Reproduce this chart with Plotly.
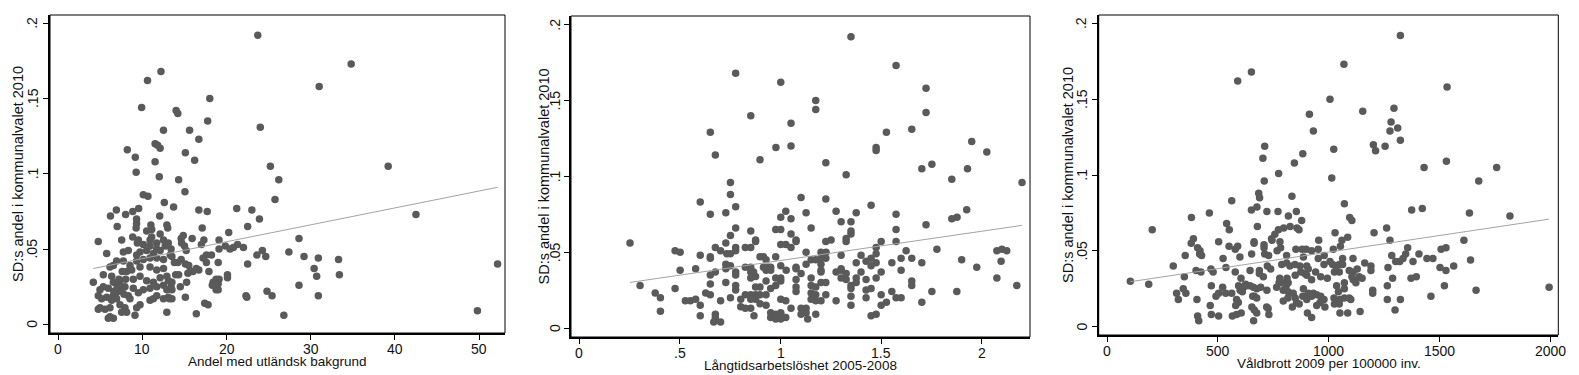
import plotly.graph_objects as go

# ---------------- data ----------------
# Panel 1: Andel med utländsk bakgrund vs SD share
pts1 = [
    (23.7, .192), (34.8, .173), (12.2, .168), (10.6, .162), (31.0, .158), (18.0, .150), (9.9, .144),
    (14.0, .142), (14.2, .140), (17.75, .135), (24.0, .131), (12.5, .129), (15.6, .129), (16.7, .123),
    (11.5, .120), (11.8, .119), (12.1, .117), (8.2, .116), (15.1, .114), (9.15, .111), (16.2, .109),
    (11.5, .108), (39.2, .105), (25.2, .105), (9.25, .101), (12.0, .098), (14.3, .096), (26.2, .096),
    (15.05, .088), (10.1, .086), (10.65, .085), (25.75, .083), (12.6, .081), (13.7, .078), (21.2, .077),
    (6.9, .076), (16.7, .076), (23.0, .076), (17.7, .075), (9.55, .077), (8.85, .075), (8.0, .073),
    (42.5, .073), (6.2, .072), (12.05, .072), (23.9, .070), (9.3, .070), (9.3, .067), (12.9, .066),
    (11.0, .066), (11.1, .063), (13.0, .064), (17.1, .064), (22.5, .065), (7.0, .065), (9.25, .064),
    (10.5, .062), (20.25, .061),
    (14.85, .059), (14.6, .057), (15.9, .057), (28.6, .057), (17.3, .056), (19.1, .056), (17.0, .053),
    (14.65, .054), (19.1, .050), (19.85, .052), (20.8, .051), (22.0, .051), (24.25, .049), (13.4, .050),
    (15.2, .049), (27.4, .048), (17.6, .046), (18.2, .046), (23.6, .046), (24.65, .045), (29.2, .045),
    (30.9, .044), (33.3, .043), (17.2, .044), (14.6, .043), (13.8, .041), (17.6, .041), (19.0, .041),
    (52.2, .040), (22.5, .040), (15.1, .040), (15.5, .039), (30.4, .037), (15.7, .035), (16.4, .037),
    (16.7, .036), (17.9, .035), (33.4, .033), (30.7, .032), (20.1, .033), (20.1, .031), (13.95, .033),
    (18.75, .030), (18.4, .028), (18.3, .026), (28.6, .026), (14.5, .025), (18.75, .023), (19.0, .023),
    (24.8, .022), (22.3, .019), (22.4, .018), (25.4, .019), (30.9, .019), (15.1, .018), (13.2, .017),
    (17.4, .014), (17.8, .013), (12.9, .008), (16.4, .007), (26.8, .006), (49.8, .009),
    (15.0, .052), (20.4, .050), (21.3, .053), (13.3, .046), (13.5, .045), (14.2, .041), (16.0, .035),
    (14.3, .033), (15.4, .034), (13.1, .029), (13.5, .028), (13.4, .025), (13.5, .023), (15.25, .028),
    (19.1, .030), (19.0, .027), (13.5, .017),
    (8.84, .058), (9.51, .056), (9.39, .054), (11.1, .058), (10.9, .056), (12.1, .060), (11.7, .054),
    (12.5, .056), (4.75, .055), (7.53, .056), (8.32, .049), (7.73, .048), (5.75, .047),
    (10.1, .053), (10.9, .052), (11.7, .050), (9.71, .048), (9.31, .046), (10.5, .049), (11.3, .047),
    (12.1, .049), (12.7, .052), (13.07, .054),
    (6.93, .042), (7.73, .042), (8.52, .039), (9.31, .042), (10.1, .043), (10.9, .044), (11.7, .044),
    (12.5, .043), (6.54, .039), (6.14, .038), (5.35, .033), (6.34, .032), (10.9, .038), (11.7, .036),
    (12.5, .037), (9.71, .038), (8.72, .036), (8.12, .035),
    (9.71, .032), (10.5, .029), (11.3, .028), (12.1, .031), (12.9, .032), (7.33, .029), (6.54, .028),
    (4.16, .028), (8.91, .030), (10.9, .024), (11.7, .025), (12.5, .026), (12.9, .023), (5.35, .025),
    (5.94, .024), (7.33, .026), (7.92, .025),
    (4.95, .023), (4.75, .019), (5.15, .017), (5.75, .018), (6.54, .019), (7.13, .022), (7.53, .023),
    (8.32, .019), (8.52, .017), (6.93, .017), (6.34, .016), (8.91, .024), (9.51, .021), (10.1, .023),
    (10.9, .016), (11.3, .017), (11.7, .019), (12.5, .017), (13.07, .018),
    (4.95, .011), (5.55, .010), (6.14, .011), (7.33, .013), (7.92, .011), (7.53, .008), (8.12, .008),
    (9.71, .013), (9.31, .011), (9.11, .006), (6.14, .005), (6.54, .004), (5.94, .004), (4.75, .010),
    (6.8, .020), (7.0, .025), (7.2, .030), (6.6, .022), (7.6, .035), (7.8, .020), (8.0, .030),
]

# Panel 2: Långtidsarbetslöshet 2005-2008 vs SD share
pts2 = [
    (1.350, .192), (1.574, .173), (.777, .168), (1.001, .162), (1.723, .158), (1.175, .150), (1.175, .144),
    (1.723, .142), (.852, .140), (1.052, .135), (1.652, .131), (.651, .129), (1.526, .129), (1.950, .123),
    (.977, .119), (1.475, .119), (1.475, .117), (1.052, .120), (2.025, .116), (.676, .114), (.898, .111),
    (1.225, .109), (1.752, .108), (1.702, .105), (1.929, .105), (1.326, .101), (1.851, .098), (.751, .096),
    (2.2, .096), (.751, .088), (1.102, .086), (1.225, .085), (.601, .083), (1.45, .081), (.777, .080),
    (1.276, .077), (1.026, .077), (1.925, .078), (.728, .076), (1.127, .076), (1.376, .076), (1.574, .075),
    (.651, .075), (1.877, .073), (1.851, .072), (1.001, .073), (1.052, .072), (1.301, .070), (1.35, .070),
    (1.723, .068), (.777, .066), (1.152, .066), (1.574, .065), (.976, .065), (1.001, .065), (.852, .064),
    (1.35, .064), (1.35, .062), (1.052, .062), (.751, .061), (1.326, .059), (1.326, .057), (1.5, .057),
    (1.574, .057), (.876, .058), (.876, .057), (1.077, .058), (1.077, .057), (1.225, .057), (1.251, .058),
    (.252, .056), (.728, .056), (1.026, .055), (1.001, .055), (.676, .053), (.777, .053), (.777, .051),
    (.825, .053), (.852, .053), (1.052, .053), (1.475, .053), (.476, .051), (.501, .050), (.702, .051),
    (1.624, .051), (1.777, .052), (2.075, .051), (2.1, .052), (2.124, .051), (1.201, .050), (1.226, .050),
    (1.127, .050), (.733, .049), (.751, .049), (1.475, .049), (1.301, .048), (1.4, .048), (.601, .048),
    (.651, .047), (.651, .046), (.898, .047), (.915, .047), (.976, .047), (1.201, .046), (1.225, .046),
    (1.45, .046), (1.599, .046), (1.652, .046), (1.152, .045), (1.175, .045), (1.9, .045), (.928, .045),
    (2.096, .044), (1.425, .044), (1.475, .043), (1.376, .043), (1.553, .043), (1.702, .043), (1.201, .042),
    (1.127, .042), (.728, .042), (.751, .041), (1.001, .041), (1.45, .041), (.825, .040), (.852, .040),
    (.915, .040), (.94, .040), (.951, .040), (1.077, .040), (1.077, .039), (1.975, .040), (.728, .039),
    (.578, .039), (.501, .038), (1.028, .038), (1.201, .038), (1.201, .037), (1.301, .039), (1.301, .038),
    (1.599, .038), (.777, .037), (.777, .035), (.852, .037), (.866, .037), (.928, .038), (.951, .038),
    (1.102, .036), (1.276, .037), (1.326, .036), (1.4, .037), (1.5, .037), (.676, .037), (.651, .035),
    (.852, .033), (.876, .034), (.976, .033), (1.001, .033), (1.077, .032), (1.152, .033), (1.425, .032),
    (1.376, .033), (1.376, .030), (1.475, .033), (2.075, .033), (1.301, .033), (1.326, .032), (.928, .031),
    (.728, .030), (1.652, .031), (1.652, .028), (.651, .029), (1.001, .031), (.976, .028), (1.201, .030),
    (1.225, .030), (1.35, .028), (1.35, .026), (.302, .028), (2.174, .028), (1.152, .028), (1.175, .027),
    (.777, .028), (.777, .025), (.876, .027), (.898, .027), (1.077, .027), (.476, .026), (1.45, .026),
    (.951, .026), (1.425, .025), (1.553, .024), (1.752, .024), (1.876, .024), (1.077, .024), (.628, .023),
    (.651, .022), (.377, .023), (.852, .022), (.876, .022), (.898, .022), (.928, .022), (1.152, .023),
    (1.175, .022), (1.225, .022), (1.5, .022), (.825, .022), (.403, .020), (.751, .020), (1.35, .021),
    (1.425, .020), (1.574, .020), (1.599, .020), (.802, .019), (1.001, .019), (1.026, .018), (1.152, .019),
    (1.175, .018), (1.201, .018), (1.276, .018), (.527, .018), (.552, .018), (.578, .019), (.702, .018),
    (.876, .019), (.852, .019), (1.526, .017), (1.702, .017), (.601, .015), (1.35, .015), (1.5, .015),
    (.898, .016), (.928, .015), (.802, .014), (.825, .013), (.852, .013), (1.102, .013), (1.127, .013),
    (1.052, .013), (.403, .011), (.951, .010), (.976, .009), (1.001, .010), (1.001, .009), (1.102, .009),
    (1.127, .010), (1.175, .009), (1.45, .008), (1.475, .009), (.601, .008), (.868, .008), (.676, .009),
    (.676, .007), (.951, .007), (.976, .006), (1.001, .006), (1.026, .007), (1.135, .006), (.668, .004),
    (.702, .004),
]

# Panel 3: Våldbrott 2009 per 100000 inv. vs SD share
pts3 = [
    (1324, .192), (1069, .173), (651, .168), (589, .162), (1535, .158), (1006, .150), (1295, .144),
    (1154, .142), (913, .140), (1282, .135), (1312, .131), (931, .129), (1277, .129), (1324, .123),
    (711, .119), (1202, .120), (1255, .119), (1023, .117), (1212, .116), (703, .111), (883, .114),
    (1532, .109), (845, .108), (1431, .105), (1759, .105), (774, .101), (1014, .098), (709, .096),
    (1678, .096), (684, .088), (688, .085), (562, .083), (834, .086), (1071, .081), (676, .079),
    (651, .077), (721, .076), (771, .076), (854, .076), (1375, .077), (1423, .078), (461, .075),
    (1636, .075), (878, .070), (1819, .073), (380, .072), (818, .073), (1095, .072), (1105, .070),
    (203, .064), (539, .068), (551, .064), (678, .066), (797, .065), (826, .066), (773, .064),
    (857, .065), (866, .064), (1262, .065), (757, .061), (742, .058), (1029, .062), (1205, .062),
    (1086, .059), (389, .058), (379, .055), (663, .056), (663, .055), (744, .057), (780, .056),
    (503, .056), (955, .057), (1060, .057), (1277, .057), (1611, .057), (550, .053), (589, .053),
    (708, .054), (708, .052), (783, .052), (852, .051), (880, .051), (898, .051), (953, .051),
    (1021, .051), (1053, .053), (1357, .052), (1508, .051), (1530, .052), (408, .052), (419, .050),
    (578, .051), (417, .048), (426, .047), (711, .048), (729, .047), (767, .050), (923, .050),
    (886, .046), (980, .047), (352, .047), (652, .048), (599, .046), (810, .047), (1348, .048),
    (1336, .045), (1321, .043), (1303, .043), (1408, .048), (1444, .045), (1471, .045), (523, .045),
    (1063, .045), (1110, .045), (1285, .047), (1381, .043), (1641, .044), (953, .045), (298, .040),
    (536, .039), (401, .037), (423, .036), (468, .038), (478, .036), (578, .036), (723, .040),
    (738, .038), (788, .041), (810, .042), (825, .040), (848, .041), (870, .040), (901, .040),
    (908, .038), (979, .041), (1006, .043), (1018, .041), (1033, .040), (1048, .041), (1063, .041),
    (1093, .037), (1111, .036), (1129, .038), (1026, .036), (1048, .036), (1163, .042), (1191, .040),
    (1191, .037), (1268, .039), (1503, .039), (1565, .040), (1530, .037), (1372, .032), (1396, .033),
    (1289, .032), (348, .033), (604, .032), (687, .037), (687, .035), (705, .033), (645, .037),
    (874, .036), (892, .035), (941, .036), (964, .033), (994, .032), (901, .034), (923, .031),
    (779, .032), (849, .034), (1105, .033), (1111, .031), (1138, .033), (1151, .032), (1123, .029),
    (1036, .027), (1044, .023), (1071, .029), (1071, .025), (1265, .027), (1523, .027), (1996, .026),
    (343, .025), (313, .022), (355, .022), (187, .028), (104, .030), (470, .027), (491, .020),
    (503, .022), (521, .026), (535, .022), (562, .022), (593, .027), (614, .026), (630, .027),
    (645, .027), (660, .026), (675, .025), (625, .028), (600, .024), (610, .023), (693, .026),
    (721, .024), (765, .026), (789, .029), (812, .032), (808, .027), (817, .029), (795, .024),
    (817, .023), (840, .022), (886, .025), (908, .022), (931, .022), (883, .020), (901, .018),
    (923, .020), (946, .021), (964, .020), (979, .018), (961, .016), (946, .014), (849, .019),
    (855, .016), (867, .015), (816, .019), (795, .017), (776, .029), (983, .013), (1024, .019),
    (1033, .016), (1051, .018), (1093, .019), (1100, .018), (1071, .019), (1026, .015), (1048, .015),
    (1199, .024), (1199, .022), (1265, .018), (1324, .018), (1462, .020), (1666, .024), (657, .020),
    (664, .020), (675, .019), (584, .018), (465, .014), (321, .018), (405, .018), (580, .014),
    (592, .016), (653, .013), (664, .011), (675, .009), (836, .013), (720, .013), (727, .012),
    (730, .008), (470, .008), (503, .007), (565, .007), (584, .008), (605, .009), (408, .007),
    (413, .004), (661, .004), (904, .009), (923, .006), (1051, .009), (1086, .009), (1142, .010),
    (1300, .011),
]

# fitted regression lines (intercept, slope) as drawn in the reference
fit1 = (0.0324, 0.001123)
fit2 = (0.0252, 0.0193)
fit3 = (0.0274, 0.0000218)

x_titles = ["Andel med utländsk bakgrund", "Långtidsarbetslöshet 2005-2008", "Våldbrott 2009 per 100000 inv."]
y_title = "SD:s andel i kommunalvalet 2010"
x_ticks = [[0, 10, 20, 30, 40, 50], [0, 0.5, 1, 1.5, 2], [0, 500, 1000, 1500, 2000]]
x_ticklabels = [["0", "10", "20", "30", "40", "50"], ["0", ".5", "1", "1.5", "2"],
                ["0", "500", "1000", "1500", "2000"]]
y_ticks = [0, 0.05, 0.1, 0.15, 0.2]
y_ticklabels = ["0", ".05", ".1", ".15", ".2"]

# ---------------- layout geometry ----------------
W, H = 1579, 375
x_ranges = [[-0.986, 53.08], [-0.0413, 2.2396], [-38.9, 2037.5]]
y_ranges = [[-0.00578, 0.2055], [-0.00593, 0.2057], [-0.00547, 0.2055]]
left_px = [50, 571, 1098.7]
right_px = [505, 1030, 1558.3]
top_px = [15, 16, 15]
bottom_px = [333, 337, 335]
ytick_lab_px = [32.5, 555, 1081.7]      # centre of rotated y tick labels
ytitle_px = [18, 544, 1068]             # centre of rotated y titles

MARK = "#5a5a5a"
LINE = "#a3a3a3"
TXT = "#111111"
FONT = "Liberation Sans, Arial, sans-serif"

fig = go.Figure()
layout = dict(
    width=W, height=H, margin=dict(l=0, r=0, t=0, b=0),
    paper_bgcolor="white", plot_bgcolor="white", showlegend=False,
    font=dict(family=FONT, size=13, color=TXT),
)
shapes = []
annotations = []

for i, (pts, fit) in enumerate([(pts1, fit1), (pts2, fit2), (pts3, fit3)]):
    n = "" if i == 0 else str(i + 1)
    xs = [p[0] for p in pts]
    ys = [p[1] for p in pts]
    fig.add_trace(go.Scatter(
        x=xs, y=ys, mode="markers", xaxis="x" + n, yaxis="y" + n,
        marker=dict(color=MARK, size=7.5, line=dict(width=0)),
        hoverinfo="skip"))
    xmin, xmax = min(xs), max(xs)
    fig.add_trace(go.Scatter(
        x=[xmin, xmax], y=[fit[0] + fit[1] * xmin, fit[0] + fit[1] * xmax],
        mode="lines", xaxis="x" + n, yaxis="y" + n,
        line=dict(color=LINE, width=1), hoverinfo="skip"))

    xdom = [left_px[i] / W, right_px[i] / W]
    ydom = [1 - bottom_px[i] / H, 1 - top_px[i] / H]
    layout["xaxis" + n] = dict(
        domain=xdom, range=x_ranges[i], anchor="y" + n,
        showgrid=False, zeroline=False, showline=True, mirror=False,
        linecolor="black", linewidth=2, ticks="outside", ticklen=5, tickwidth=1, tickcolor="black",
        tickvals=x_ticks[i], showticklabels=False,
    )
    layout["yaxis" + n] = dict(
        domain=ydom, range=y_ranges[i], anchor="x" + n,
        showgrid=False, zeroline=False, showline=True, mirror=False,
        linecolor="black", linewidth=2, ticks="outside", ticklen=5, tickwidth=1, tickcolor="black",
        tickvals=y_ticks, showticklabels=False,
    )
    # thin frame around the plot region (top / right sides)
    shapes.append(dict(type="rect", xref="x" + n + " domain", yref="y" + n + " domain",
                       x0=0, x1=1, y0=0, y1=1, line=dict(color="black", width=1),
                       fillcolor="rgba(0,0,0,0)", layer="above"))

    # x tick labels
    for v, t in zip(x_ticks[i], x_ticklabels[i]):
        annotations.append(dict(text=t, xref="x" + n, yref="paper", x=v,
                                y=1 - (bottom_px[i] + 16) / H,
                                xanchor="center", yanchor="middle", showarrow=False,
                                font=dict(size=14, color=TXT)))
    # y tick labels (rotated)
    for v, t in zip(y_ticks, y_ticklabels):
        annotations.append(dict(text=t, xref="paper", yref="y" + n, x=ytick_lab_px[i] / W, y=v,
                                xanchor="center", yanchor="middle", showarrow=False,
                                textangle=-90, font=dict(size=14, color=TXT)))
    # axis titles
    annotations.append(dict(text=x_titles[i], xref="paper", yref="paper",
                            x=(xdom[0] + xdom[1]) / 2, y=1 - (bottom_px[i] + 28.5) / H,
                            xanchor="center", yanchor="middle", showarrow=False,
                            font=dict(size=13.5, color=TXT)))
    annotations.append(dict(text=y_title, xref="paper", yref="paper",
                            x=ytitle_px[i] / W, y=(ydom[0] + ydom[1]) / 2,
                            xanchor="center", yanchor="middle", showarrow=False, textangle=-90,
                            font=dict(size=14.5, color=TXT)))

layout["shapes"] = shapes
layout["annotations"] = annotations
fig.update_layout(**layout)
fig.write_html("out.html")
